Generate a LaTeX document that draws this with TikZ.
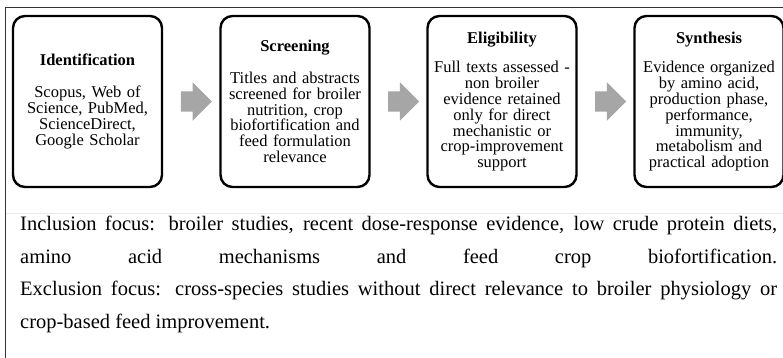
\documentclass[tikz,border=0pt]{standalone}
\usepackage{fontspec}
\setmainfont{Liberation Serif}
\usetikzlibrary{shapes.arrows,calc}

\tikzset{
	stagebox/.style={draw, line width=2.4pt, rounded corners=12pt, minimum width=149pt, minimum height=171pt, text width=146pt, inner sep=1pt, align=center, font=\fontsize{16.5}{15.8}\selectfont},
	flowarrow/.style={single arrow, fill=black!35, draw=none, inner xsep=0pt, inner ysep=10pt, minimum height=31pt, single arrow head extend=9pt},
	framecol/.style={draw=black!80, line width=1pt},
	sepcol/.style={draw=black!8, line width=1pt}
}

\begin{document}
\begin{tikzpicture}[x=1pt, y=-1pt]
			\useasboundingbox (0, 0) rectangle (783, 358);
			\draw[framecol] (5.5, 358) -- (5.5, 7.5) -- (783, 7.5);
			\draw[sepcol] (6, 213) -- (783, 213);

			\draw (87.5, 101.5) 	node[stagebox] 	(ident) 	{\textbf{Identification}\\[16pt]Scopus, Web of\\Science, PubMed,\\ScienceDirect,\\Google Scholar};
			\draw (295, 101.5) 	node[stagebox] 	(screen) 	{\textbf{Screening}\\[16pt]Titles and abstracts\\screened for broiler\\nutrition, crop\\biofortification and\\feed formulation\\relevance};
			\draw (502, 101.5) 	node[stagebox] 	(elig) 		{\textbf{Eligibility}\\[14pt]Full texts assessed -\\non broiler\\evidence retained\\only for direct\\mechanistic or\\crop-improvement\\support};
			\draw (709, 101.5) 	node[stagebox] 	(synth) 	{\textbf{Synthesis}\\[14pt]Evidence organized\\by amino acid,\\production phase,\\performance,\\immunity,\\metabolism and\\practical adoption};

			\node[flowarrow] (arr1) at ($(ident.east)!0.5!(screen.west)$) {};
			\node[flowarrow] (arr2) at ($(screen.east)!0.5!(elig.west)$) {};
			\node[flowarrow] (arr3) at ($(elig.east)!0.5!(synth.west)$) {};

			\node[anchor=north west, inner sep=0pt, text width=757pt, align=justify, font=\fontsize{20.5}{32.5}\selectfont] (focus) at (20, 216)
				{Inclusion focus: broiler studies, recent dose-response evidence, low crude protein diets,\linebreak amino acid mechanisms and feed crop biofortification.\linebreak Exclusion focus: cross-species studies without direct relevance to broiler physiology or\linebreak crop-based feed improvement.};
\end{tikzpicture}
\end{document}
